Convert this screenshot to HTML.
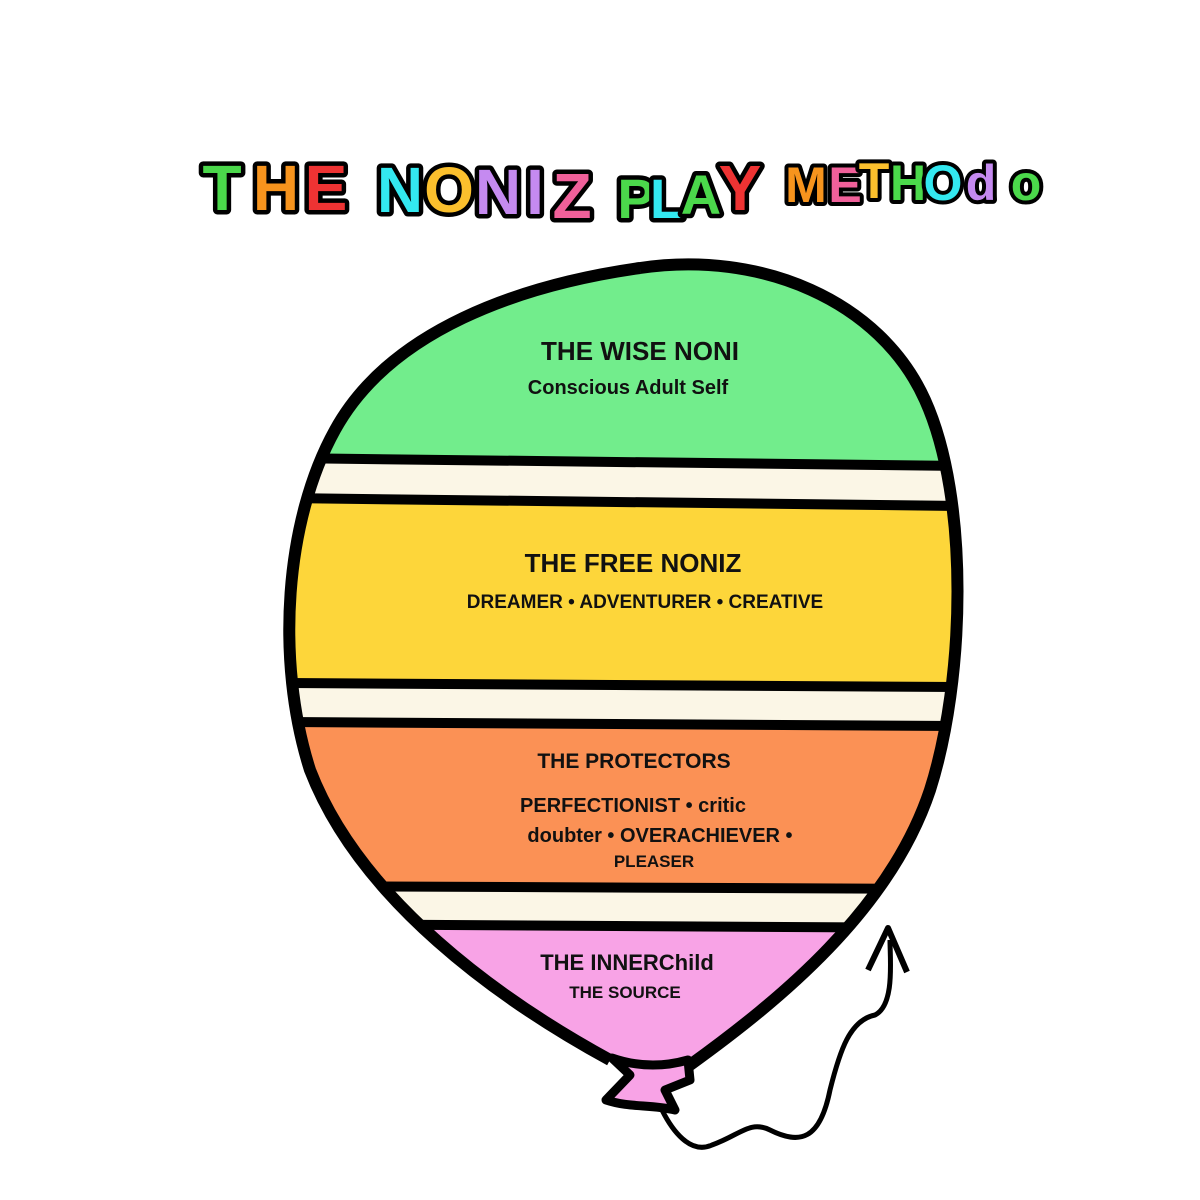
<!DOCTYPE html>
<html><head><meta charset="utf-8"><style>
html,body{margin:0;padding:0;background:#fff;width:1200px;height:1200px;overflow:hidden}
svg{display:block}
.t{font-family:"Liberation Sans",sans-serif;font-weight:bold;font-size:64px;stroke:#000;stroke-width:9;paint-order:stroke;stroke-linejoin:round;text-anchor:middle}
.m{font-size:50px;stroke-width:8}
.h{font-family:"Liberation Sans",sans-serif;font-weight:bold;fill:#111;text-anchor:middle}
</style></head><body>
<svg width="1200" height="1200" viewBox="0 0 1200 1200">
<g class="t">
<text x="222" y="210" fill="#4bd84b">T</text>
<text x="276" y="210" fill="#f7941d">H</text>
<text x="326" y="210" fill="#ee3333">E</text>
<text x="400" y="212" fill="#33e8f0">N</text>
<text x="449" y="212" fill="#fbc02d">O</text>
<text x="498" y="214" fill="#c58af0">N</text>
<text x="535" y="214" fill="#c58af0">I</text>
<text x="572" y="218" fill="#f0609a">Z</text>
<text x="636" y="218" fill="#4bd84b" font-size="56">P</text>
<text x="667" y="218" fill="#33e8f0" font-size="56">L</text>
<text x="701" y="214" fill="#4bd84b" font-size="56">A</text>
<text x="740" y="210" fill="#ee3333">Y</text>
<g class="m">
<text x="806" y="202" fill="#f7941d" font-size="50">M</text>
<text x="845" y="202" fill="#f0609a" font-size="50">E</text>
<text x="874" y="198" fill="#fbc02d" font-size="50">T</text>
<text x="908" y="200" fill="#4bd84b" font-size="50">H</text>
<text x="943" y="200" fill="#33e8f0" font-size="50">O</text>
<text x="981" y="200" fill="#c58af0" font-size="50">d</text>
<text x="1026" y="200" fill="#4bd84b" font-size="50">o</text>
</g>
</g>
<defs>
<clipPath id="b"><path d="M640,268 C760,250 880,300 925,400 C970,500 965,680 930,790 C890,910 780,1000 690,1065 L610,1060 C500,1000 360,900 310,770 C275,660 285,520 335,430 C390,330 520,285 640,268 Z"/></clipPath>
</defs>
<g clip-path="url(#b)">
<rect x="0" y="200" width="1200" height="265" fill="#72ed8c"/>
<rect x="0" y="462" width="1200" height="42" fill="#fbf6e6"/>
<rect x="0" y="502" width="1200" height="185" fill="#fdd63a"/>
<rect x="0" y="685" width="1200" height="40" fill="#fbf6e6"/>
<rect x="0" y="723" width="1200" height="165" fill="#fb9155"/>
<rect x="0" y="887" width="1200" height="40" fill="#fbf6e6"/>
<rect x="0" y="925" width="1200" height="200" fill="#f8a3e6"/>
<g stroke="#000" stroke-width="10">
<line x1="280" y1="458" x2="960" y2="466"/>
<line x1="280" y1="498" x2="960" y2="506"/>
<line x1="280" y1="683" x2="960" y2="687"/>
<line x1="280" y1="722" x2="960" y2="726"/>
<line x1="280" y1="886" x2="960" y2="889"/>
<line x1="280" y1="924" x2="960" y2="928"/>
</g>
</g>
<path d="M640,268 C760,250 880,300 925,400 C970,500 965,680 930,790 C890,910 780,1000 690,1065 M610,1060 C500,1000 360,900 310,770 C275,660 285,520 335,430 C390,330 520,285 640,268" fill="none" stroke="#000" stroke-width="12"/>
<path d="M612,1058 L630,1075 L606,1100 C630,1108 650,1104 675,1110 L665,1090 L690,1080 L688,1060 C660,1068 635,1066 612,1058 Z" fill="#f8a3e6" stroke="#000" stroke-width="9" stroke-linejoin="round"/>
<path d="M662,1110 C672,1130 690,1155 712,1145 C740,1135 750,1120 770,1130 C800,1145 820,1140 830,1090 C840,1050 850,1020 875,1015 C895,1005 890,960 890,940" fill="none" stroke="#000" stroke-width="5"/>
<path d="M868,970 L888,928 L907,972" fill="none" stroke="#000" stroke-width="6" stroke-linejoin="round"/>
<text class="h" x="640" y="360" font-size="26">THE WISE NONI</text>
<text class="h" x="628" y="394" font-size="20">Conscious Adult Self</text>
<text class="h" x="633" y="572" font-size="26">THE FREE NONIZ</text>
<text class="h" x="645" y="608" font-size="19">DREAMER • ADVENTURER • CREATIVE</text>
<text class="h" x="634" y="768" font-size="21">THE PROTECTORS</text>
<text class="h" x="633" y="812" font-size="20">PERFECTIONIST • critic</text>
<text class="h" x="660" y="842" font-size="20">doubter • OVERACHIEVER •</text>
<text class="h" x="654" y="867" font-size="17">PLEASER</text>
<text class="h" x="627" y="970" font-size="22">THE INNERChild</text>
<text class="h" x="625" y="998" font-size="17">THE SOURCE</text>
</svg>
</body></html>
